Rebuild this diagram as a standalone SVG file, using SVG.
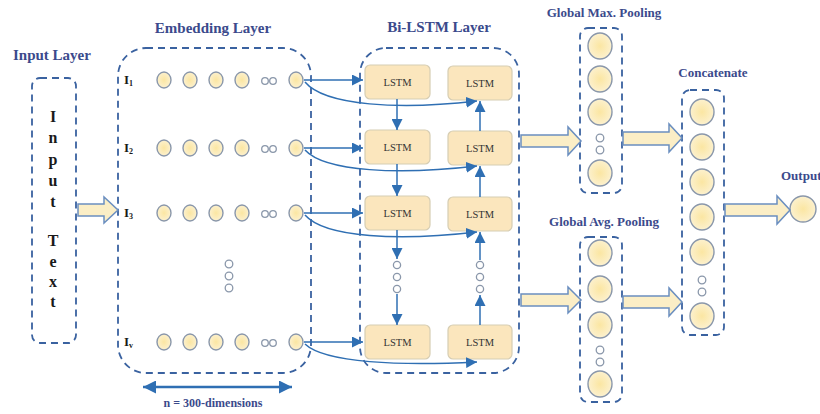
<svg xmlns="http://www.w3.org/2000/svg" width="820" height="414" viewBox="0 0 820 414">
<style>
.title{font-family:"Liberation Serif","Times New Roman",serif;font-weight:bold;fill:#3b4a8c}
.big{font-size:15px}
.sm{font-size:13px}
.letter{font-family:"Liberation Serif",serif;font-weight:bold;font-size:16px;fill:#1a1a1a;text-anchor:middle}
.row{font-family:"Liberation Serif",serif;font-weight:bold;font-size:13px;fill:#1a1a1a}
.lstm rect{fill:#fbe6bd;stroke:#d6cdb3;stroke-width:1.2}
.lstm text{font-family:"Liberation Serif",serif;font-size:10.5px;fill:#333;text-anchor:middle}
.dash{fill:none;stroke:#3a62a0;stroke-width:1.8;stroke-dasharray:7 5}
.nd{fill:url(#cg);stroke:#8a97aa;stroke-width:1.4}
.dot{fill:#fff;stroke:#8a97aa;stroke-width:1.3}
.ha{fill:#fbeec6;stroke:#6b8fc0;stroke-width:1.5}
.con{fill:none;stroke:#2f6fb3;stroke-width:1.5}
</style>
<defs>
<radialGradient id="cg" cx="50%" cy="50%" r="60%">
<stop offset="0" stop-color="#fbe6a2"/>
<stop offset="0.7" stop-color="#fcefc7"/>
<stop offset="1" stop-color="#fdf6e0"/>
</radialGradient>
<marker id="ah" viewBox="0 0 10 10" refX="10" refY="5" markerWidth="11" markerHeight="11" markerUnits="userSpaceOnUse" orient="auto">
<path d="M0,0 L10,5 L0,10 Z" fill="#2f6fb3"/>
</marker>
<marker id="ab" viewBox="0 0 10 10" refX="10" refY="5" markerWidth="14" markerHeight="13" markerUnits="userSpaceOnUse" orient="auto-start-reverse">
<path d="M0,0 L10,5 L0,10 Z" fill="#2f6fb3"/>
</marker>
</defs>
<rect width="820" height="414" fill="#fff"/>

<!-- Input layer -->
<g id="input">
<text class="title big" x="13" y="60">Input Layer</text>
<rect class="dash" x="32" y="78" width="44" height="265" rx="8"/>
<text class="letter" x="53" y="122">I</text>
<text class="letter" x="53" y="143">n</text>
<text class="letter" x="53" y="165">p</text>
<text class="letter" x="53" y="186">u</text>
<text class="letter" x="53" y="207">t</text>
<text class="letter" x="53" y="246">T</text>
<text class="letter" x="53" y="267">e</text>
<text class="letter" x="53" y="287">x</text>
<text class="letter" x="53" y="307">t</text>
</g>

<!-- Embedding layer -->
<g id="embedding">
<text class="title big" x="213" y="33" text-anchor="middle">Embedding Layer</text>
<rect class="dash" x="118" y="48" width="193" height="325" rx="28"/>
<g id="row1">
<text class="row" x="124" y="84">I<tspan font-size="8" dy="2">1</tspan></text>
<ellipse class="nd" cx="164" cy="80" rx="7" ry="8"/><ellipse class="nd" cx="190" cy="80" rx="7" ry="8"/><ellipse class="nd" cx="216" cy="80" rx="7" ry="8"/><ellipse class="nd" cx="242" cy="80" rx="7" ry="8"/>
<circle class="dot" cx="265" cy="81" r="3.3"/><circle class="dot" cx="273" cy="81" r="3.3"/>
<ellipse class="nd" cx="296" cy="80" rx="7" ry="8"/>
</g>
<g id="row2">
<text class="row" x="124" y="152">I<tspan font-size="8" dy="2">2</tspan></text>
<ellipse class="nd" cx="164" cy="148" rx="7" ry="8"/><ellipse class="nd" cx="190" cy="148" rx="7" ry="8"/><ellipse class="nd" cx="216" cy="148" rx="7" ry="8"/><ellipse class="nd" cx="242" cy="148" rx="7" ry="8"/>
<circle class="dot" cx="265" cy="149" r="3.3"/><circle class="dot" cx="273" cy="149" r="3.3"/>
<ellipse class="nd" cx="296" cy="148" rx="7" ry="8"/>
</g>
<g id="row3">
<text class="row" x="124" y="217">I<tspan font-size="8" dy="2">3</tspan></text>
<ellipse class="nd" cx="164" cy="213" rx="7" ry="8"/><ellipse class="nd" cx="190" cy="213" rx="7" ry="8"/><ellipse class="nd" cx="216" cy="213" rx="7" ry="8"/><ellipse class="nd" cx="242" cy="213" rx="7" ry="8"/>
<circle class="dot" cx="265" cy="214" r="3.3"/><circle class="dot" cx="273" cy="214" r="3.3"/>
<ellipse class="nd" cx="296" cy="213" rx="7" ry="8"/>
</g>
<g id="rowv">
<text class="row" x="124" y="346">I<tspan font-size="8" dy="2">v</tspan></text>
<ellipse class="nd" cx="164" cy="342" rx="7" ry="8"/><ellipse class="nd" cx="190" cy="342" rx="7" ry="8"/><ellipse class="nd" cx="216" cy="342" rx="7" ry="8"/><ellipse class="nd" cx="242" cy="342" rx="7" ry="8"/>
<circle class="dot" cx="265" cy="343" r="3.3"/><circle class="dot" cx="273" cy="343" r="3.3"/>
<ellipse class="nd" cx="296" cy="342" rx="7" ry="8"/>
</g>
<circle class="dot" cx="229" cy="264" r="3.8"/><circle class="dot" cx="229" cy="276" r="3.8"/><circle class="dot" cx="229" cy="288" r="3.8"/>
<text class="title" x="213" y="407" text-anchor="middle" font-size="12">n = 300-dimensions</text>
</g>

<!-- Bi-LSTM layer -->
<g id="bilstm">
<text class="title big" x="439" y="32" text-anchor="middle">Bi-LSTM Layer</text>
<rect class="dash" x="360" y="48" width="159" height="325" rx="26"/>
<g class="lstm" id="lstm-f1"><rect x="365" y="65" width="65" height="34" rx="5"/><text x="397.5" y="86">LSTM</text></g>
<g class="lstm" id="lstm-b1"><rect x="448" y="66" width="64" height="34" rx="5"/><text x="480" y="87">LSTM</text></g>
<g class="lstm" id="lstm-f2"><rect x="365" y="130" width="65" height="34" rx="5"/><text x="397.5" y="151">LSTM</text></g>
<g class="lstm" id="lstm-b2"><rect x="448" y="131" width="64" height="34" rx="5"/><text x="480" y="152">LSTM</text></g>
<g class="lstm" id="lstm-f3"><rect x="365" y="196" width="65" height="34" rx="5"/><text x="397.5" y="217">LSTM</text></g>
<g class="lstm" id="lstm-b3"><rect x="448" y="197" width="64" height="34" rx="5"/><text x="480" y="218">LSTM</text></g>
<g class="lstm" id="lstm-fv"><rect x="365" y="325" width="65" height="34" rx="5"/><text x="397.5" y="346">LSTM</text></g>
<g class="lstm" id="lstm-bv"><rect x="448" y="325" width="64" height="34" rx="5"/><text x="480" y="346">LSTM</text></g>
<circle class="dot" cx="397" cy="265" r="3.6"/><circle class="dot" cx="397" cy="277" r="3.6"/><circle class="dot" cx="397" cy="289" r="3.6"/>
<circle class="dot" cx="480" cy="265" r="3.6"/><circle class="dot" cx="480" cy="277" r="3.6"/><circle class="dot" cx="480" cy="289" r="3.6"/>
</g>

<!-- Pooling -->
<g id="maxpool">
<text class="title sm" x="604" y="17" text-anchor="middle">Global Max. Pooling</text>
<rect class="dash" x="580" y="28" width="42" height="165" rx="8"/>
<ellipse class="nd" cx="600" cy="46" rx="12" ry="13"/>
<ellipse class="nd" cx="600" cy="79" rx="12" ry="13"/>
<ellipse class="nd" cx="600" cy="112" rx="12" ry="13"/>
<circle class="dot" cx="600" cy="138" r="3.8"/><circle class="dot" cx="600" cy="150" r="3.8"/>
<ellipse class="nd" cx="600" cy="173" rx="12" ry="13"/>
</g>
<g id="avgpool">
<text class="title sm" x="604" y="226" text-anchor="middle">Global Avg. Pooling</text>
<rect class="dash" x="580" y="237" width="42" height="165" rx="8"/>
<ellipse class="nd" cx="600" cy="253" rx="12" ry="13"/>
<ellipse class="nd" cx="600" cy="289" rx="12" ry="13"/>
<ellipse class="nd" cx="600" cy="325" rx="12" ry="13"/>
<circle class="dot" cx="600" cy="350" r="3.8"/><circle class="dot" cx="600" cy="362" r="3.8"/>
<ellipse class="nd" cx="600" cy="384" rx="12" ry="13"/>
</g>

<!-- Concatenate -->
<g id="concat">
<text class="title sm" x="713" y="77" text-anchor="middle">Concatenate</text>
<rect class="dash" x="682" y="90" width="42" height="245" rx="8"/>
<ellipse class="nd" cx="702" cy="112" rx="12" ry="13"/>
<ellipse class="nd" cx="702" cy="147" rx="12" ry="13"/>
<ellipse class="nd" cx="702" cy="182" rx="12" ry="13"/>
<ellipse class="nd" cx="702" cy="217" rx="12" ry="13"/>
<ellipse class="nd" cx="702" cy="252" rx="12" ry="13"/>
<circle class="dot" cx="702" cy="280" r="3.8"/><circle class="dot" cx="702" cy="292" r="3.8"/>
<ellipse class="nd" cx="702" cy="316" rx="12" ry="13"/>
</g>

<!-- Output -->
<g id="output">
<text class="title sm" x="781" y="180">Output</text>
<ellipse class="nd" cx="803" cy="209" rx="13" ry="13"/>
</g>

<!-- Connectors -->
<g id="connectors">
<path class="ha" d="M78,204 H104 V197 L118,210 L104,223 V216 H78 Z"/>
<path class="ha" d="M521,135 H568 V127 L581,141 L568,155 V147 H521 Z"/>
<path class="ha" d="M521,294 H568 V287 L581,300 L568,313 V306 H521 Z"/>
<path class="ha" d="M623,132 H669 V124 L682,138 L669,152 V145 H623 Z"/>
<path class="ha" d="M623,296 H669 V288 L682,302 L669,316 V308 H623 Z"/>
<path class="ha" d="M725,204 H777 V196 L790,210 L777,224 V216 H725 Z"/>

<path class="con" d="M304,80 H363" marker-end="url(#ah)"/>
<path class="con" d="M304,148 H363" marker-end="url(#ah)"/>
<path class="con" d="M304,213 H363" marker-end="url(#ah)"/>
<path class="con" d="M304,342 H363" marker-end="url(#ah)"/>

<path class="con" d="M305,82 C325,106 400,110 477,101" marker-end="url(#ah)"/>
<path class="con" d="M305,150 C325,172 400,175 477,166" marker-end="url(#ah)"/>
<path class="con" d="M305,215 C325,238 400,241 477,232" marker-end="url(#ah)"/>
<path class="con" d="M305,344 C325,363 400,366 477,362" marker-end="url(#ah)"/>

<path class="con" d="M397,99 V130" marker-end="url(#ah)"/>
<path class="con" d="M397,164 V196" marker-end="url(#ah)"/>
<path class="con" d="M397,230 V259" marker-end="url(#ah)"/>
<path class="con" d="M397,294 V325" marker-end="url(#ah)"/>

<path class="con" d="M480,131 V101" marker-end="url(#ah)"/>
<path class="con" d="M480,197 V166" marker-end="url(#ah)"/>
<path class="con" d="M480,260 V232" marker-end="url(#ah)"/>
<path class="con" d="M480,325 V295" marker-end="url(#ah)"/>

<path d="M143,387 H292" fill="none" stroke="#2f6fb3" stroke-width="2.5" marker-start="url(#ab)" marker-end="url(#ab)"/>
</g>
</svg>
